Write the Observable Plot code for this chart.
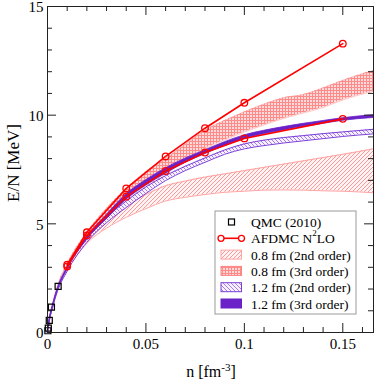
<!DOCTYPE html>
<html>
<head>
<meta charset="utf-8">
<script src="https://cdn.jsdelivr.net/npm/d3@7"></script>
<script src="https://cdn.jsdelivr.net/npm/@observablehq/plot@0.6"></script>
<style>
  html, body { margin: 0; padding: 0; background: #fff; }
  #chart { width: 374px; height: 381px; }
  #defs { position: absolute; width: 0; height: 0; overflow: hidden; }
</style>
</head>
<body>
<svg id="defs" width="0" height="0" xmlns="http://www.w3.org/2000/svg">
  <defs>
    <pattern id="pinkHatch" patternUnits="userSpaceOnUse" width="4" height="4">
      <rect width="4" height="4" fill="#fff3f3"/>
      <path d="M0,4 L4,0 M-1,1 L1,-1 M3,5 L5,3" fill="none" stroke="#ff9999" stroke-width="1" shape-rendering="crispEdges"/>
    </pattern>
    <pattern id="salmonCross" patternUnits="userSpaceOnUse" width="3" height="3">
      <rect width="3" height="3" fill="#ffdada"/>
      <line x1="0" y1="0.5" x2="3" y2="0.5" stroke="#ff8a8a" stroke-width="1"/>
      <line x1="0.5" y1="0" x2="0.5" y2="3" stroke="#ff8a8a" stroke-width="1"/>
    </pattern>
    <pattern id="purpleHatch" patternUnits="userSpaceOnUse" width="4" height="4">
      <rect width="4" height="4" fill="#f6f0ff"/>
      <path d="M0,0 L4,4 M-1,3 L1,5 M3,-1 L5,1" fill="none" stroke="#a77ee6" stroke-width="1" shape-rendering="crispEdges"/>
    </pattern>
  </defs>
</svg>
<div id="chart"></div>
<script>
// ---------- data ----------
const gridX = [0, 0.001, 0.0025, 0.005, 0.01, 0.02, 0.03, 0.04, 0.05, 0.06, 0.07, 0.08, 0.09, 0.1, 0.11, 0.12, 0.13, 0.14, 0.15, 0.1656];

const r08_2nd_lo = [0, 0.58, 1.15, 1.95, 2.85, 4.1, 4.8, 5.3, 5.7, 6.05, 6.22, 6.35, 6.45, 6.5, 6.55, 6.56, 6.55, 6.52, 6.5, 6.43];
const r08_2nd_hi = [0, 0.6, 1.18, 2.0, 2.95, 4.3, 5.15, 5.85, 6.35, 6.75, 6.97, 7.15, 7.3, 7.45, 7.6, 7.75, 7.9, 8.05, 8.2, 8.45];

const r08_3rd_lo = [0, 0.6, 1.2, 2.05, 3.05, 4.45, 5.35, 6.1, 6.75, 7.3, 7.9, 8.45, 8.85, 9.22, 9.55, 9.85, 10.1, 10.35, 10.7, 11.1];
const r08_3rd_hi = [0, 0.62, 1.22, 2.1, 3.15, 4.6, 5.7, 6.6, 7.4, 8.0, 8.65, 9.3, 9.75, 10.15, 10.5, 10.8, 10.95, 11.25, 11.6, 12.05];

const r12_2nd_lo = [0, 0.56, 1.12, 1.88, 2.82, 4.15, 5.05, 5.75, 6.4, 6.99, 7.45, 7.83, 8.2, 8.45, 8.6, 8.72, 8.82, 8.92, 9.02, 9.14];
const r12_2nd_hi = [0, 0.59, 1.16, 1.95, 2.95, 4.35, 5.3, 6.05, 6.7, 7.22, 7.65, 8.03, 8.4, 8.68, 8.85, 8.97, 9.06, 9.15, 9.23, 9.35];

const r12_3rd_lo = [0, 0.57, 1.14, 1.9, 2.88, 4.25, 5.2, 6.1, 6.75, 7.3, 7.8, 8.2, 8.58, 8.9, 9.12, 9.3, 9.45, 9.6, 9.74, 9.87];
const r12_3rd_hi = [0, 0.6, 1.18, 1.98, 2.98, 4.4, 5.4, 6.35, 7.0, 7.55, 8.0, 8.38, 8.75, 9.07, 9.28, 9.45, 9.6, 9.73, 9.86, 10.0];

const afdmcX  = [0.01, 0.02, 0.04, 0.06, 0.08, 0.1, 0.15];
const afdmcHi = [3.12, 4.61, 6.63, 8.1, 9.4, 10.57, 13.29];
const afdmcLo = [3.04, 4.47, 6.25, 7.43, 8.28, 8.93, 9.83];

const qmcX = [0.0002, 0.0004, 0.0009, 0.002, 0.0054];
const qmcY = [0.08, 0.2, 0.56, 1.17, 2.12];

const xMajor = [0, 0.05, 0.1, 0.15];
const xMinor = [0.01, 0.02, 0.03, 0.04, 0.06, 0.07, 0.08, 0.09, 0.11, 0.12, 0.13, 0.14, 0.16];
const yMajor = [0, 5, 10, 15];
const yMinor = [1, 2, 3, 4, 6, 7, 8, 9, 11, 12, 13, 14];

const legendLabels = ["QMC (2010)", "AFDMC N|2|LO", "0.8 fm (2nd order)", "0.8 fm (3rd order)", "1.2 fm (2nd order)", "1.2 fm (3rd order)"];

// ---------- tables ----------
const band = (lo, hi) => gridX.map((x, i) => ({x, lo: lo[i], hi: hi[i]}));
const b08_2 = band(r08_2nd_lo, r08_2nd_hi);
const b08_3 = band(r08_3rd_lo, r08_3rd_hi);
const b12_2 = band(r12_2nd_lo, r12_2nd_hi);
const b12_3 = band(r12_3rd_lo, r12_3rd_hi);
const afHi = afdmcX.map((x, i) => ({x, y: afdmcHi[i]}));
const afLo = afdmcX.map((x, i) => ({x, y: afdmcLo[i]}));
const qmc = qmcX.map((x, i) => ({x, y: qmcY[i]}));

// ---------- layout ----------
const W = 374, H = 381, mL = 47, mR = 1, mT = 6, mB = 49;
const pw = W - mL - mR, ph = H - mT - mB;
const FONT = "'Liberation Serif', 'Times New Roman', serif";
const RED = "#ff0000", PINK = "#ffa3a3", SALMON = "#ff8282", PURPLE = "#6a22c8", PURPLE2 = "#7b3fd6";
const curve = "monotone-x";

const bandEdges = (data, stroke, w) => [
  Plot.lineY(data, {x: "x", y: "lo", stroke, strokeWidth: w, curve}),
  Plot.lineY(data, {x: "x", y: "hi", stroke, strokeWidth: w, curve})
];

const svg = Plot.plot({
  width: W, height: H,
  marginLeft: mL, marginRight: mR, marginTop: mT, marginBottom: mB,
  style: {fontFamily: FONT, fontSize: "15px", background: "#fff", color: "#000"},
  x: {domain: [0, 0.1656], label: null},
  y: {domain: [0, 15], label: null},
  marks: [
    // 0.8 fm 2nd order
    Plot.areaY(b08_2, {x: "x", y1: "lo", y2: "hi", fill: "url(#pinkHatch)", curve}),
    ...bandEdges(b08_2, PINK, 1),
    // 0.8 fm 3rd order
    Plot.areaY(b08_3, {x: "x", y1: "lo", y2: "hi", fill: "url(#salmonCross)", curve}),
    ...bandEdges(b08_3, "#ffa0a0", 0.6),
    // 1.2 fm 2nd order
    Plot.areaY(b12_2, {x: "x", y1: "lo", y2: "hi", fill: "url(#purpleHatch)", curve}),
    ...bandEdges(b12_2, PURPLE2, 1),
    // 1.2 fm 3rd order
    Plot.areaY(b12_3, {x: "x", y1: "lo", y2: "hi", fill: PURPLE, stroke: PURPLE, strokeWidth: 0.8, curve}),
    // AFDMC
    Plot.lineY(afHi, {x: "x", y: "y", stroke: RED, strokeWidth: 1.6}),
    Plot.lineY(afLo, {x: "x", y: "y", stroke: RED, strokeWidth: 1.6}),
    Plot.dot(afHi, {x: "x", y: "y", r: 3.3, stroke: RED, strokeWidth: 1.3, fill: "none"}),
    Plot.dot(afLo, {x: "x", y: "y", r: 3.3, stroke: RED, strokeWidth: 1.3, fill: "none"}),
    // QMC
    Plot.dot(qmc, {x: "x", y: "y", symbol: "square", r: 3.4, stroke: "#000", strokeWidth: 1.2, fill: "none"}),
    // frame
    Plot.frame({stroke: "#222", strokeWidth: 1}),
    // inward ticks (bottom/top, left/right)
    Plot.tickX(xMajor, {x: d => d, insetTop: ph - 9, stroke: "#222"}),
    Plot.tickX(xMajor, {x: d => d, insetBottom: ph - 9, stroke: "#222"}),
    Plot.tickX(xMinor, {x: d => d, insetTop: ph - 5, stroke: "#222"}),
    Plot.tickX(xMinor, {x: d => d, insetBottom: ph - 5, stroke: "#222"}),
    Plot.tickY(yMajor, {y: d => d, insetRight: pw - 9, stroke: "#222"}),
    Plot.tickY(yMajor, {y: d => d, insetLeft: pw - 9, stroke: "#222"}),
    Plot.tickY(yMinor, {y: d => d, insetRight: pw - 5, stroke: "#222"}),
    Plot.tickY(yMinor, {y: d => d, insetLeft: pw - 5, stroke: "#222"}),
    // tick labels
    Plot.axisX(xMajor, {tickSize: 0, tickPadding: 6, tickFormat: d => String(d), label: null, fontSize: 15}),
    Plot.axisY(yMajor, {tickSize: 0, tickPadding: 4, tickFormat: d => String(d), label: null, fontSize: 15, dy: 1})
  ]
});

const s = d3.select(svg);
// axis titles
s.append("text")
  .attr("transform", `translate(13,${mT + ph / 2 - 6}) rotate(-90)`)
  .attr("text-anchor", "middle").attr("dominant-baseline", "central")
  .attr("font-family", FONT).attr("font-size", 17).attr("fill", "#000")
  .text("E/N [MeV]");
const xl = s.append("text")
  .attr("x", mL + pw / 2 + 1).attr("y", 377)
  .attr("text-anchor", "middle")
  .attr("font-family", FONT).attr("font-size", 16).attr("fill", "#000");
xl.append("tspan").text("n [fm");
xl.append("tspan").attr("dy", -6).attr("font-size", 11).text("-3");
xl.append("tspan").attr("dy", 6).text("]");

// legend
const lg = s.append("g").attr("font-family", FONT).attr("font-size", 13.5).attr("text-anchor", "start");
const LX = 215, LY = 211, LW = 141, LH = 103, rowH = 16.3, row0 = 222;
lg.append("rect").attr("x", LX).attr("y", LY).attr("width", LW).attr("height", LH)
  .attr("fill", "#fff").attr("stroke", "#9a9a9a").attr("stroke-width", 1);
const sx0 = 221, sx1 = 241.5, tx = 251;
const fills = [null, null, "url(#pinkHatch)", "url(#salmonCross)", "url(#purpleHatch)", PURPLE];
const strokes = [null, null, PINK, SALMON, PURPLE2, PURPLE];
legendLabels.forEach((lab, i) => {
  const cy = row0 + i * rowH;
  if (i === 0) {
    lg.append("rect").attr("x", 228.5).attr("y", cy - 3).attr("width", 6).attr("height", 6)
      .attr("fill", "none").attr("stroke", "#000").attr("stroke-width", 1.2);
  } else if (i === 1) {
    lg.append("line").attr("x1", sx0).attr("x2", sx1).attr("y1", cy).attr("y2", cy)
      .attr("stroke", RED).attr("stroke-width", 1.6);
    [sx0, sx1].forEach(cx => lg.append("circle").attr("cx", cx).attr("cy", cy).attr("r", 3)
      .attr("fill", "#fff").attr("stroke", RED).attr("stroke-width", 1.3));
  } else {
    lg.append("rect").attr("x", sx0).attr("y", cy - 4.5).attr("width", sx1 - sx0).attr("height", 9)
      .attr("fill", fills[i]).attr("stroke", strokes[i]).attr("stroke-width", 1);
  }
  const t = lg.append("text").attr("x", tx).attr("y", cy).attr("dominant-baseline", "central")
    .attr("text-anchor", "start").attr("fill", "#000");
  const parts = lab.split("|");
  t.append("tspan").text(parts[0]);
  if (parts.length > 1) {
    t.append("tspan").attr("dy", -5).attr("font-size", 9).text(parts[1]);
    t.append("tspan").attr("dy", 5).text(parts[2]);
  }
});

document.getElementById("chart").appendChild(svg);
</script>
</body>
</html>
